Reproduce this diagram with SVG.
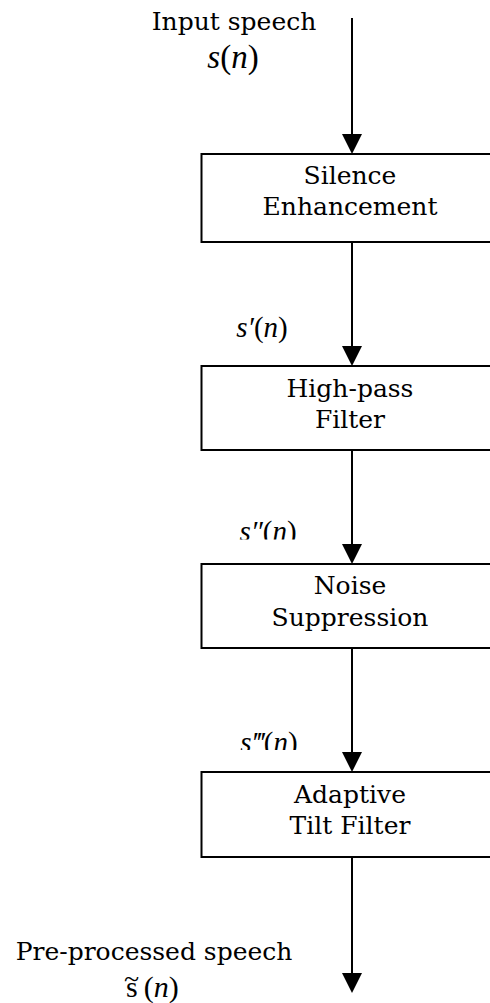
<svg xmlns="http://www.w3.org/2000/svg" width="490" height="1003" viewBox="0 0 490 1003">
  <style>
    .box { fill: #fff; stroke: #000; stroke-width: 2; }
    .label { font-family: "DejaVu Serif", "Liberation Serif", serif; font-size: 25px; fill: #000; text-anchor: middle; }
    .math { font-family: "Liberation Serif", "Times New Roman", serif; font-style: italic; font-size: 29px; fill: #000; }
    .up { font-style: normal; }
    .wire { stroke: #000; stroke-width: 2; fill: none; marker-end: url(#head); }
  </style>
  <defs>
    <marker id="head" markerUnits="userSpaceOnUse" markerWidth="20" markerHeight="20" refX="0" refY="10" orient="auto" viewBox="0 0 20 20">
      <path d="M0,0 L20,10 L0,20 Z" fill="#000"/>
    </marker>
    <clipPath id="cut2"><rect x="200" y="490" width="150" height="49.5"/></clipPath>
    <clipPath id="cut3"><rect x="200" y="700" width="150" height="50"/></clipPath>
  </defs>

  <!-- signal path arrows -->
  <g id="connectors">
    <line class="wire" x1="352" y1="18" x2="352" y2="134"/>
    <line class="wire" x1="352" y1="243" x2="352" y2="346"/>
    <line class="wire" x1="352" y1="451" x2="352" y2="544"/>
    <line class="wire" x1="352" y1="649" x2="352" y2="752"/>
    <line class="wire" x1="352" y1="858" x2="352" y2="973"/>
  </g>

  <!-- input / output annotations -->
  <g id="input">
    <text class="label" x="234" y="30">Input speech</text>
    <text class="math" x="233" y="68" style="font-size:33px" text-anchor="middle">s<tspan class="up">(</tspan>n<tspan class="up">)</tspan></text>
  </g>

  <g id="silence-enhancement">
    <rect class="box" x="201.5" y="154" width="298" height="88"/>
    <text class="label" x="350" y="184">Silence</text>
    <text class="label" x="350" y="215">Enhancement</text>
  </g>

  <g id="sig-s1">
    <text class="math" x="262" y="337" text-anchor="middle">s′<tspan class="up">(</tspan>n<tspan class="up">)</tspan></text>
  </g>

  <g id="high-pass-filter">
    <rect class="box" x="201.5" y="366" width="298" height="84"/>
    <text class="label" x="350" y="397">High-pass</text>
    <text class="label" x="350" y="428">Filter</text>
  </g>

  <g id="sig-s2" clip-path="url(#cut2)">
    <text class="math" x="268" y="541" text-anchor="middle">s″<tspan class="up">(</tspan>n<tspan class="up">)</tspan></text>
  </g>

  <g id="noise-suppression">
    <rect class="box" x="201.5" y="564" width="298" height="84"/>
    <text class="label" x="350" y="594">Noise</text>
    <text class="label" x="350" y="626">Suppression</text>
  </g>

  <g id="sig-s3" clip-path="url(#cut3)">
    <text class="math" x="269" y="752" text-anchor="middle">s‴<tspan class="up">(</tspan>n<tspan class="up">)</tspan></text>
  </g>

  <g id="adaptive-tilt-filter">
    <rect class="box" x="201.5" y="772" width="298" height="85"/>
    <text class="label" x="350" y="803">Adaptive</text>
    <text class="label" x="350" y="834">Tilt Filter</text>
  </g>

  <g id="output">
    <text class="label" x="154" y="960">Pre-processed speech</text>
    <text class="math" x="126" y="997" style="font-size:30px"><tspan class="up">s</tspan><tspan class="up" dx="6">(</tspan>n<tspan class="up">)</tspan></text>
    <text class="math up" x="131.5" y="988" style="font-size:28px" text-anchor="middle">~</text>
  </g>
</svg>
